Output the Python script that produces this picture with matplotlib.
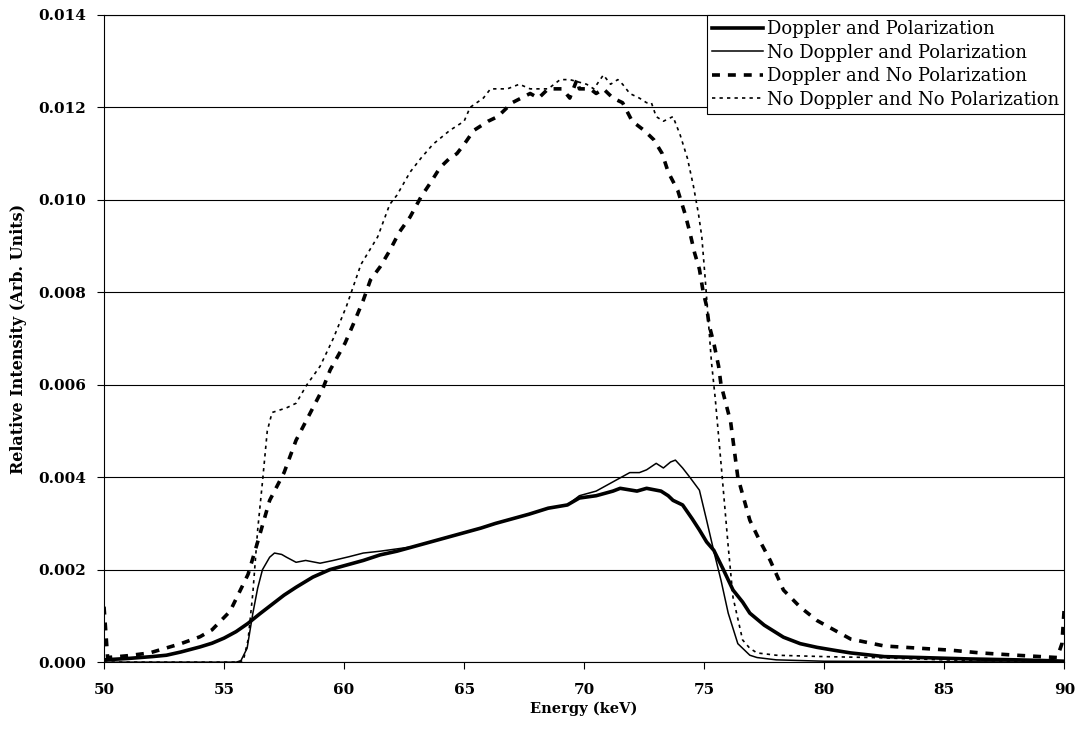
import matplotlib.pyplot as plt
import numpy as np

plt.rcParams['font.family'] = ['DejaVu Serif']

# Doppler and Polarization
x_dp = [50, 51, 52, 52.6, 53.2, 54, 54.5, 55, 55.5, 56, 56.5, 57, 57.5, 58, 58.7, 59.4, 60.1, 60.8,
        61.5, 62.2, 62.9, 63.6, 64.3, 65, 65.7, 66.3, 67, 67.7, 68.5, 69.3, 69.8, 70.5, 71.2, 71.5,
        72.2, 72.6, 73.2, 73.5, 73.7, 74.1, 74.5, 74.8, 75.1, 75.4, 75.8, 76.2, 76.6, 76.9, 77.5,
        78.3, 79.0, 79.7, 80.5, 81.1, 82.5, 84, 86, 88, 89.5, 90]
y_dp = [0.00005, 0.00008, 0.00012, 0.00015, 0.00022, 0.00033, 0.00041, 0.00052, 0.00066, 0.00084,
        0.00105, 0.00125, 0.00145, 0.00162, 0.00184, 0.002, 0.0021, 0.0022, 0.00232, 0.0024, 0.0025,
        0.0026, 0.0027, 0.0028, 0.0029, 0.003, 0.0031, 0.0032, 0.00333, 0.0034, 0.00355, 0.0036,
        0.0037, 0.00376, 0.0037, 0.00376, 0.0037, 0.0036, 0.0035, 0.0034, 0.0031, 0.00286, 0.0026,
        0.00242, 0.002, 0.00156, 0.0013, 0.00106, 0.0008, 0.00054, 0.0004, 0.00032, 0.00025, 0.0002,
        0.00012, 0.0001, 0.00007, 0.00005, 0.00003, 0.00002]

# No Doppler and Polarization
x_ndp = [50, 55.5, 55.7, 55.96, 56.2, 56.4, 56.6, 56.9, 57.1, 57.4, 57.6, 58.0, 58.4, 59.0, 59.55,
         60.2, 60.8, 61.5, 62.2, 62.9, 63.6, 64.3, 65, 65.7, 66.3, 67, 67.7, 68.5, 69.3, 69.8, 70.5,
         71.2, 71.9, 72.3, 72.6, 73.0, 73.3, 73.6, 73.8, 74.1, 74.4, 74.8, 75.1, 75.4, 75.7, 76.0,
         76.4, 76.9, 77.2, 78, 80, 90]
y_ndp = [0, 0, 0.00003, 0.0003, 0.00106, 0.0016, 0.002, 0.00227, 0.00236, 0.00233, 0.00227, 0.00216,
         0.0022, 0.00214, 0.0022, 0.00228, 0.00236, 0.0024, 0.00245, 0.0025, 0.0026, 0.0027, 0.0028,
         0.0029, 0.003, 0.0031, 0.0032, 0.00333, 0.0034, 0.0036, 0.0037, 0.0039, 0.0041, 0.0041,
         0.00416, 0.0043, 0.0042, 0.00433, 0.00437, 0.0042, 0.0040, 0.00372, 0.00307, 0.0024,
         0.00177, 0.00106, 0.0004, 0.00015, 0.0001, 0.00005, 0.00002, 0]

# Doppler and No Polarization
x_dnp = [50, 50.15, 51, 51.9, 53.2, 54.0, 54.5, 55.25, 56.0, 56.4, 56.9, 57.5, 58.0, 58.6, 59.1,
         59.42, 60.04, 60.4, 60.8, 61.1, 61.5, 61.9, 62.3, 62.75, 63.2, 63.6, 64.0, 64.4, 64.7, 65.0,
         65.4, 66.0, 66.4, 67.0, 67.75, 68.1, 68.5, 69.1, 69.4, 69.7, 69.8, 70.25, 70.5, 70.8, 71.2,
         71.6, 72.0, 72.5, 72.9, 73.25, 73.5, 73.9, 74.2, 74.4, 74.6, 74.8, 74.96, 75.1, 75.2, 75.4,
         75.6, 75.7, 75.9, 76.1, 76.4, 76.9, 77.3, 77.75, 78.3, 79.0, 79.7, 80.4, 81.1, 82.5, 84,
         85.25, 86.5, 88.0, 89.7, 89.9, 90]
y_dnp = [0.0012, 0.0001, 0.00014, 0.0002, 0.0004, 0.00055, 0.0007, 0.0011, 0.0019, 0.0026, 0.0035,
         0.0041, 0.0048, 0.0054, 0.0059, 0.00632, 0.0069, 0.00733, 0.00783, 0.00827, 0.00855, 0.0089,
         0.0093, 0.00963, 0.01006, 0.01037, 0.0107, 0.0109, 0.011, 0.0112, 0.0115, 0.0117, 0.0118,
         0.0121, 0.0123, 0.0122, 0.0124, 0.0124, 0.0122, 0.0126, 0.0124, 0.0124, 0.0123, 0.0124,
         0.0122, 0.0121, 0.0117, 0.0115, 0.0113, 0.011, 0.0106, 0.0102, 0.0097, 0.0093, 0.00885,
         0.0085, 0.0080, 0.0077, 0.0073, 0.0069, 0.0064, 0.0060, 0.0056, 0.0052, 0.0040, 0.00307,
         0.00264, 0.0022, 0.00156, 0.00119, 0.0009, 0.0007, 0.0005, 0.00035, 0.0003, 0.00026, 0.0002,
         0.00015, 0.0001, 0.0004, 0.0012]

# No Doppler and No Polarization
x_ndnp = [50, 55.5, 55.8, 56.0, 56.2, 56.4, 56.6, 56.8, 57.0, 57.6, 58.0, 58.45, 59.0, 59.55, 60.1,
          60.7, 61.4, 61.9, 62.2, 62.75, 63.2, 63.7, 64.4, 65.0, 65.25, 65.8, 66.1, 66.8, 67.3, 67.75,
          68.5, 69.0, 69.4, 70.1, 70.4, 70.8, 71.1, 71.4, 71.6, 71.9, 72.3, 72.6, 72.8, 73.0, 73.3,
          73.7, 74.0, 74.3, 74.55, 74.76, 74.9, 75.04, 75.17, 75.3, 75.46, 75.7, 76.0, 76.2, 76.6,
          76.9, 77.2, 78, 80, 82, 85, 90]
y_ndnp = [0, 0, 0.00003, 0.00048, 0.0015, 0.00286, 0.0039, 0.005, 0.0054, 0.0055, 0.0056, 0.006,
          0.0064, 0.007, 0.0077, 0.0086, 0.0092, 0.0099, 0.0101, 0.0106, 0.0109, 0.0112, 0.0115,
          0.0117, 0.012, 0.0122, 0.0124, 0.0124, 0.0125, 0.0124, 0.0124, 0.0126, 0.0126, 0.0125,
          0.0124, 0.0127, 0.0125, 0.0126, 0.0125, 0.0123, 0.0122, 0.0121, 0.0121, 0.0118, 0.0117,
          0.0118, 0.0114, 0.0109, 0.0103, 0.0097, 0.0092, 0.0083, 0.0074, 0.0065, 0.0057, 0.0043,
          0.0025, 0.0014, 0.00048, 0.0003, 0.0002, 0.00015, 0.00012, 0.0001, 0.00005, 0]

x_ticks = np.arange(50, 91, 5)
y_ticks = np.arange(0, 0.0141, 0.002)

fig = plt.figure(figsize=(10.79, 7.44), dpi=100)
ax = fig.add_axes([0.0964, 0.110, 0.890, 0.870])

ax.plot(x_dp, y_dp, color="black", lw=2.6, label="Doppler and Polarization")
ax.plot(x_ndp, y_ndp, color="black", lw=1.1, label="No Doppler and Polarization")
ax.plot(x_dnp, y_dnp, color="black", lw=2.6, dashes=(2.2, 2.2), label="Doppler and No Polarization")
ax.plot(x_ndnp, y_ndnp, color="black", lw=1.2, dashes=(2, 2.5), label="No Doppler and No Polarization")

ax.set_xlim(50, 90)
ax.set_ylim(0, 0.014)
ax.set_xticks(x_ticks)
ax.set_yticks(y_ticks)
ax.set_yticklabels(["%.3f" % v for v in y_ticks])
ax.yaxis.grid(True, color="black", lw=0.8)
ax.set_axisbelow(True)

for lab in ax.get_xticklabels() + ax.get_yticklabels():
    lab.set_fontweight("bold")
    lab.set_fontsize(11)
ax.tick_params(axis="both", direction="out", length=5, width=0.8, color="black", pad=8)
ax.tick_params(axis="x", pad=10)

for sp in ax.spines.values():
    sp.set_linewidth(0.8)

ax.set_xlabel("Energy (keV)", fontsize=10.5, fontweight="bold", labelpad=3)
ax.set_ylabel("Relative Intensity (Arb. Units)", fontsize=11.5, fontweight="bold", labelpad=8)

leg = ax.legend(loc="upper right", fontsize=13, frameon=True, fancybox=False, framealpha=1,
                handlelength=2.8, handletextpad=0.2, borderpad=0.3, labelspacing=0.3,
                borderaxespad=0)
leg.get_frame().set_edgecolor("black")
leg.get_frame().set_linewidth(0.8)

plt.savefig("out.png", dpi=100)
